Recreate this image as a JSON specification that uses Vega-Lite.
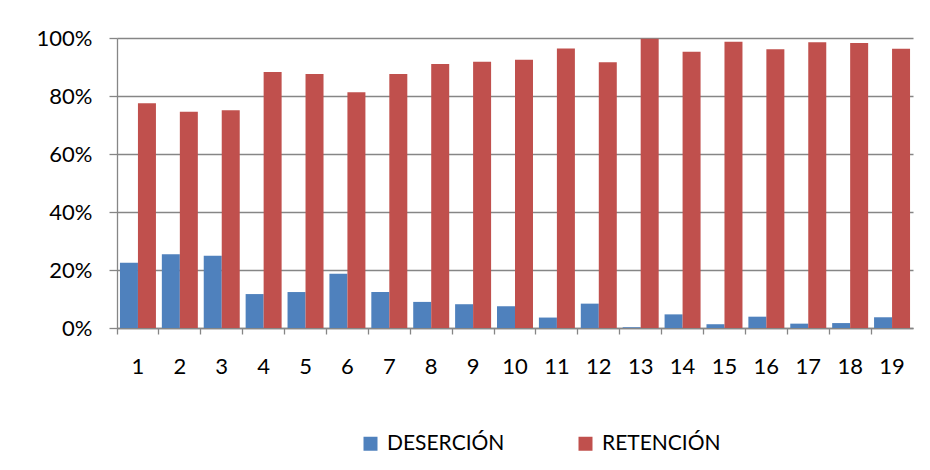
{
  "$schema": "https://vega.github.io/schema/vega-lite/v6.json",
  "width": 796,
  "height": 290,
  "autosize": {"type": "none"},
  "padding": {"left": 117, "top": 38, "right": 17, "bottom": 142},
  "background": "white",
  "data": {
    "values": [
      {"periodo": 1, "serie": "DESERCIÓN", "valor": 0.225},
      {"periodo": 1, "serie": "RETENCIÓN", "valor": 0.775},
      {"periodo": 2, "serie": "DESERCIÓN", "valor": 0.254},
      {"periodo": 2, "serie": "RETENCIÓN", "valor": 0.746},
      {"periodo": 3, "serie": "DESERCIÓN", "valor": 0.249},
      {"periodo": 3, "serie": "RETENCIÓN", "valor": 0.751},
      {"periodo": 4, "serie": "DESERCIÓN", "valor": 0.117},
      {"periodo": 4, "serie": "RETENCIÓN", "valor": 0.883},
      {"periodo": 5, "serie": "DESERCIÓN", "valor": 0.124},
      {"periodo": 5, "serie": "RETENCIÓN", "valor": 0.876},
      {"periodo": 6, "serie": "DESERCIÓN", "valor": 0.187},
      {"periodo": 6, "serie": "RETENCIÓN", "valor": 0.813},
      {"periodo": 7, "serie": "DESERCIÓN", "valor": 0.124},
      {"periodo": 7, "serie": "RETENCIÓN", "valor": 0.876},
      {"periodo": 8, "serie": "DESERCIÓN", "valor": 0.090},
      {"periodo": 8, "serie": "RETENCIÓN", "valor": 0.910},
      {"periodo": 9, "serie": "DESERCIÓN", "valor": 0.082},
      {"periodo": 9, "serie": "RETENCIÓN", "valor": 0.918},
      {"periodo": 10, "serie": "DESERCIÓN", "valor": 0.075},
      {"periodo": 10, "serie": "RETENCIÓN", "valor": 0.925},
      {"periodo": 11, "serie": "DESERCIÓN", "valor": 0.036},
      {"periodo": 11, "serie": "RETENCIÓN", "valor": 0.964},
      {"periodo": 12, "serie": "DESERCIÓN", "valor": 0.084},
      {"periodo": 12, "serie": "RETENCIÓN", "valor": 0.916},
      {"periodo": 13, "serie": "DESERCIÓN", "valor": 0.003},
      {"periodo": 13, "serie": "RETENCIÓN", "valor": 0.997},
      {"periodo": 14, "serie": "DESERCIÓN", "valor": 0.047},
      {"periodo": 14, "serie": "RETENCIÓN", "valor": 0.953},
      {"periodo": 15, "serie": "DESERCIÓN", "valor": 0.013},
      {"periodo": 15, "serie": "RETENCIÓN", "valor": 0.987},
      {"periodo": 16, "serie": "DESERCIÓN", "valor": 0.039},
      {"periodo": 16, "serie": "RETENCIÓN", "valor": 0.961},
      {"periodo": 17, "serie": "DESERCIÓN", "valor": 0.015},
      {"periodo": 17, "serie": "RETENCIÓN", "valor": 0.985},
      {"periodo": 18, "serie": "DESERCIÓN", "valor": 0.017},
      {"periodo": 18, "serie": "RETENCIÓN", "valor": 0.983},
      {"periodo": 19, "serie": "DESERCIÓN", "valor": 0.037},
      {"periodo": 19, "serie": "RETENCIÓN", "valor": 0.963}
    ]
  },
  "mark": {"type": "bar"},
  "encoding": {
    "x": {
      "field": "periodo",
      "type": "ordinal",
      "scale": {"paddingInner": 0, "paddingOuter": 0},
      "axis": {
        "title": null,
        "labelAngle": 0,
        "bandPosition": 0,
        "labelDx": 20.95,
        "labelAlign": "center",
        "labelFontSize": 22,
        "labelColor": "#000000",
        "labelPadding": 22,
        "tickSize": 6,
        "tickColor": "#868686",
        "domainColor": "#868686",
        "domainWidth": 1.3,
        "tickWidth": 1.3,
        "grid": false
      }
    },
    "xOffset": {
      "field": "serie",
      "type": "nominal",
      "sort": ["DESERCIÓN", "RETENCIÓN"],
      "scale": {"paddingInner": 0, "paddingOuter": 0.164}
    },
    "y": {
      "field": "valor",
      "type": "quantitative",
      "scale": {"domain": [0, 1], "nice": false},
      "axis": {
        "title": null,
        "values": [0, 0.2, 0.4, 0.6, 0.8, 1],
        "format": ".0%",
        "labelFontSize": 22,
        "labelColor": "#000000",
        "labelPadding": 17,
        "tickSize": 8,
        "tickColor": "#868686",
        "tickWidth": 1.3,
        "domainColor": "#868686",
        "domainWidth": 1.3,
        "grid": true,
        "gridColor": "#868686",
        "gridWidth": 1.3
      }
    },
    "color": {
      "field": "serie",
      "type": "nominal",
      "sort": ["DESERCIÓN", "RETENCIÓN"],
      "scale": {"domain": ["DESERCIÓN", "RETENCIÓN"], "range": ["#4F81BD", "#C0504D"]},
      "legend": {
        "title": null,
        "orient": "none",
        "direction": "horizontal",
        "legendX": 243,
        "legendY": 395,
        "symbolType": "square",
        "symbolSize": 196,
        "symbolStrokeWidth": 0,
        "labelFontSize": 21,
        "labelColor": "#000000",
        "labelOffset": 6,
        "columnPadding": 70,
        "labelLimit": 300
      }
    }
  },
  "config": {
    "font": "Lato",
    "view": {"stroke": null}
  }
}
